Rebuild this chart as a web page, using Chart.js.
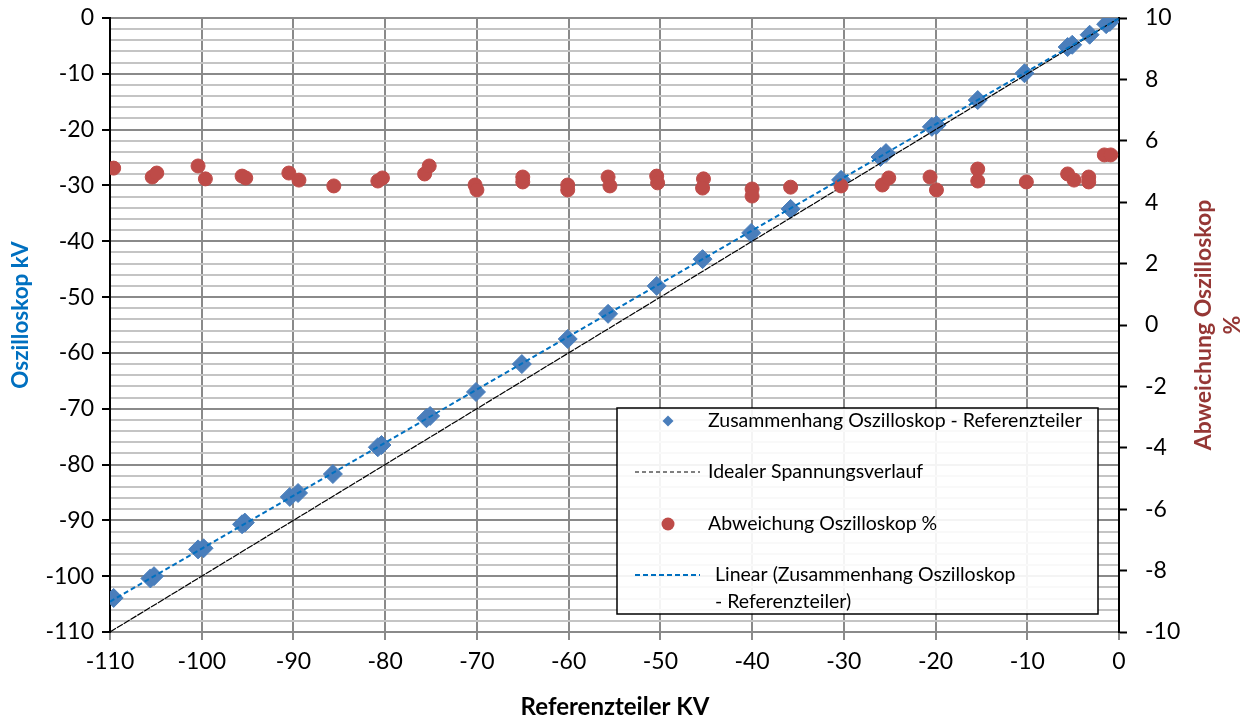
<!DOCTYPE html>
<html>
<head>
<meta charset="utf-8">
<script src="https://cdn.jsdelivr.net/npm/chart.js@4.4.1/dist/chart.umd.min.js"></script>
<style>
  html, body { margin: 0; padding: 0; background: #ffffff; }
  #wrap { width: 1250px; height: 722px; }
</style>
</head>
<body>
<div id="wrap"><canvas id="c" width="1250" height="722"></canvas></div>
<script>
// Reference divider voltage (kV) and oscilloscope reading (kV)
const refKV = [-109.6, -105.6, -105.2, -100.4, -99.8, -95.6, -95.3, -90.4, -89.5, -85.7,
  -80.8, -80.4, -75.5, -75.1, -70.1, -65.1, -60.1, -55.7, -50.4, -45.4,
  -40.1, -35.8, -30.3, -26.0, -25.4, -20.4, -19.9, -15.4, -10.3, -5.6,
  -5.1, -3.2, -1.4, -1.0];
const scopeKV = [-103.9, -100.4, -100.0, -95.2, -95.0, -90.7, -90.4, -85.8, -85.1, -81.7,
  -76.9, -76.5, -71.7, -71.3, -67.0, -62.0, -57.5, -53.0, -48.0, -43.2,
  -38.5, -34.2, -29.0, -24.9, -24.2, -19.5, -19.2, -14.7, -9.9, -5.2,
  -4.8, -3.0, -1.1, -0.7];

// Deviation of the oscilloscope in percent
const devRef = [-109.6, -105.4, -104.9, -100.4, -99.6, -95.6, -95.2, -90.5, -89.4, -85.6,
  -80.8, -80.3, -75.7, -75.2, -70.2, -70.0, -65.0, -65.0, -60.1, -60.1,
  -55.7, -55.5, -50.4, -50.3, -45.3, -45.4, -40.0, -40.0, -35.8, -30.3,
  -25.8, -25.1, -20.6, -19.9, -15.4, -15.4, -10.1, -5.6, -4.9, -3.3,
  -3.3, -1.6, -0.9];
const devPct = [5.11, 4.82, 4.95, 5.18, 4.76, 4.85, 4.79, 4.95, 4.72, 4.53,
  4.69, 4.79, 4.92, 5.18, 4.56, 4.40, 4.82, 4.66, 4.56, 4.40,
  4.82, 4.53, 4.85, 4.63, 4.76, 4.46, 4.43, 4.20, 4.49, 4.53,
  4.56, 4.79, 4.82, 4.40, 5.08, 4.69, 4.66, 4.92, 4.72, 4.82,
  4.66, 5.54, 5.54];

// Ideal voltage curve: scope reading equals reference reading
const idealX = [-110, 0];
const idealY = [-110, 0];

// Axis ranges
const xRange = [-110, 0];
const yRange = [-110, 0];
const y2Range = [-10, 10];

// Least-squares trend line through the measured points
function linearFit(xs, ys) {
  const n = xs.length;
  let sx = 0, sy = 0, sxx = 0, sxy = 0;
  for (let i = 0; i < n; i++) { sx += xs[i]; sy += ys[i]; sxx += xs[i] * xs[i]; sxy += xs[i] * ys[i]; }
  const m = (n * sxy - sx * sy) / (n * sxx - sx * sx);
  const b = (sy - m * sx) / n;
  return { m, b };
}
const fit = linearFit(refKV, scopeKV);
const trendPts = xRange.map(x => ({ x, y: fit.m * x + fit.b }));

const FONT = 'Lato, "Open Sans", sans-serif';
const BLUE = '#4A7EBB';
const RED = '#BE4B48';

const legendPlugin = {
  id: 'boxLegend',
  afterDraw(chart) {
    const ctx = chart.ctx;
    const L = 617, T = 408, R = 1098, B = 614;
    ctx.save();
    ctx.fillStyle = 'rgba(255,255,255,0.9)';
    ctx.fillRect(L, T, R - L, B - T);
    ctx.strokeStyle = '#000';
    ctx.lineWidth = 1.5;
    ctx.strokeRect(L, T, R - L, B - T);

    ctx.font = '19.5px ' + FONT;
    ctx.fillStyle = '#000';
    ctx.textBaseline = 'middle';
    ctx.textAlign = 'left';

    // diamond marker
    const mx = 668;
    let y = 421;
    ctx.fillStyle = BLUE;
    ctx.beginPath();
    ctx.moveTo(mx, y - 5.5); ctx.lineTo(mx + 5.5, y); ctx.lineTo(mx, y + 5.5); ctx.lineTo(mx - 5.5, y); ctx.closePath();
    ctx.fill();
    ctx.fillStyle = '#000';
    ctx.fillText('Zusammenhang Oszilloskop - Referenzteiler', 708, y);

    // ideal line
    y = 472;
    ctx.strokeStyle = '#000';
    ctx.lineWidth = 1;
    ctx.setLineDash([4, 3]);
    ctx.beginPath(); ctx.moveTo(635, y); ctx.lineTo(700, y); ctx.stroke();
    ctx.fillText('Idealer Spannungsverlauf', 708, y);

    // deviation dot
    y = 524;
    ctx.setLineDash([]);
    ctx.fillStyle = RED;
    ctx.beginPath(); ctx.arc(mx, y, 6.5, 0, Math.PI * 2); ctx.fill();
    ctx.fillStyle = '#000';
    ctx.fillText('Abweichung Oszilloskop %', 708, y);

    // trend line
    y = 575;
    ctx.strokeStyle = '#0070C0';
    ctx.lineWidth = 2;
    ctx.setLineDash([5, 3]);
    ctx.beginPath(); ctx.moveTo(635, y); ctx.lineTo(700, y); ctx.stroke();
    ctx.setLineDash([]);
    ctx.fillText('Linear (Zusammenhang Oszilloskop', 715, y);
    ctx.fillText('- Referenzteiler)', 715, 602);

    // axis titles
    ctx.font = 'bold 24px ' + FONT;
    ctx.textAlign = 'center';
    ctx.fillStyle = '#000';
    ctx.fillText('Referenzteiler KV', 615, 707);

    ctx.save();
    ctx.font = 'bold 22.5px ' + FONT;
    ctx.translate(21, 315);
    ctx.rotate(-Math.PI / 2);
    ctx.fillStyle = '#0070C0';
    ctx.fillText('Oszilloskop kV', 0, 0);
    ctx.restore();

    ctx.save();
    ctx.font = 'bold 23px ' + FONT;
    ctx.translate(1204, 325);
    ctx.rotate(-Math.PI / 2);
    ctx.fillStyle = '#953735';
    ctx.fillText('Abweichung Oszilloskop', 0, 0);
    ctx.fillText('%', 0, 29);
    ctx.restore();

    ctx.restore();
  }
};

const isMajor = v => Math.abs(Math.round(v) % 10) === 0;

// fixed scale sizes so the plot area sits at 110..1119 x 18..632
function fixVertical(width) {
  return s => { s.width = width; s.paddingTop = 0; s.paddingBottom = 0; };
}

new Chart(document.getElementById('c'), {
  type: 'scatter',
  data: {
    datasets: [
      {
        label: 'Linear (Zusammenhang Oszilloskop - Referenzteiler)',
        data: trendPts,
        showLine: true,
        borderColor: '#0070C0',
        borderWidth: 2,
        borderDash: [5, 3],
        pointRadius: 0,
        yAxisID: 'y',
        order: 0
      },
      {
        label: 'Abweichung Oszilloskop %',
        data: devRef.map((x, i) => ({ x, y: devPct[i] })),
        backgroundColor: RED,
        borderColor: RED,
        pointRadius: 7,
        pointHoverRadius: 7,
        yAxisID: 'y1',
        order: 1
      },
      {
        label: 'Idealer Spannungsverlauf',
        data: idealX.map((x, i) => ({ x, y: idealY[i] })),
        showLine: true,
        borderColor: '#000',
        borderWidth: 1.2,
        borderDash: [7, 1],
        pointRadius: 0,
        yAxisID: 'y',
        order: 2
      },
      {
        label: 'Zusammenhang Oszilloskop - Referenzteiler',
        data: refKV.map((x, i) => ({ x, y: scopeKV[i] })),
        backgroundColor: BLUE,
        borderColor: BLUE,
        pointStyle: 'rectRot',
        pointRadius: 9.5,
        pointHoverRadius: 9.5,
        yAxisID: 'y',
        order: 3
      }
    ]
  },
  options: {
    responsive: false,
    animation: false,
    events: [],
    layout: { padding: { top: 18, left: 0, right: 0, bottom: 0 } },
    plugins: {
      legend: { display: false },
      tooltip: { enabled: false }
    },
    scales: {
      x: {
        type: 'linear',
        min: xRange[0], max: xRange[1],
        afterFit(s) { s.height = 90; s.paddingLeft = 0; s.paddingRight = 0; },
        ticks: {
          stepSize: 10,
          color: '#000',
          font: { family: FONT, size: 23 },
          padding: 8,
          maxRotation: 0,
          autoSkip: false
        },
        grid: { color: '#8a8a8a', lineWidth: 2, tickLength: 8, tickColor: '#8a8a8a' },
        border: { color: '#8a8a8a', width: 2 }
      },
      y: {
        type: 'linear',
        position: 'left',
        min: yRange[0], max: yRange[1],
        afterFit: fixVertical(110),
        ticks: {
          stepSize: 2,
          autoSkip: false,
          color: '#000',
          font: { family: FONT, size: 23 },
          padding: 8,
          callback: v => isMajor(v) ? String(v) : ''
        },
        grid: {
          color: c => isMajor(c.tick.value) ? '#8a8a8a' : '#c4c4c4',
          lineWidth: 2,
          tickLength: 8,
          tickColor: c => isMajor(c.tick.value) ? '#000' : 'rgba(0,0,0,0)',
          tickWidth: 2
        },
        border: { color: '#000', width: 2 }
      },
      y1: {
        type: 'linear',
        position: 'right',
        min: y2Range[0], max: y2Range[1],
        afterFit: fixVertical(131),
        ticks: {
          stepSize: 2,
          autoSkip: false,
          color: '#000',
          font: { family: FONT, size: 23 },
          padding: 18
        },
        grid: { drawOnChartArea: false, tickLength: 8, tickColor: '#000', tickWidth: 2 },
        border: { color: '#000', width: 2 }
      }
    }
  },
  plugins: [legendPlugin]
});
</script>
</body>
</html>
